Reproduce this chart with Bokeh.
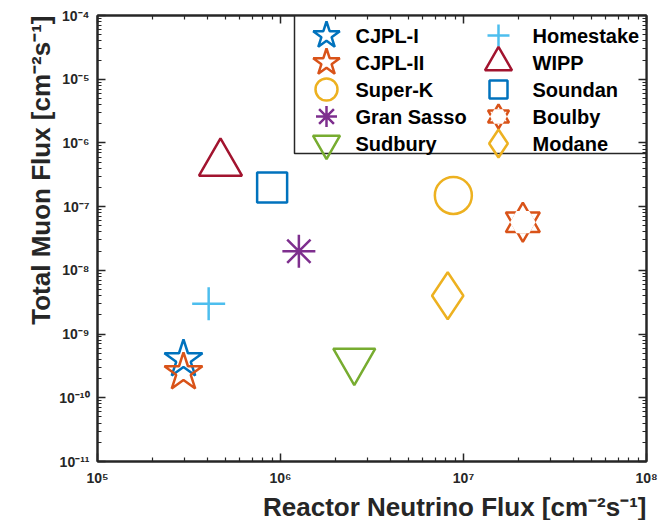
from bokeh.plotting import figure
from bokeh.models import FixedTicker, CustomJSTickFormatter, LogAxis, Range1d, LinearScale, Title
from bokeh.embed import file_html
from bokeh.resources import INLINE
from bokeh.core.properties import value

# ---------------- data ----------------
sites = ["CJPL-I", "CJPL-II", "Super-K", "Gran Sasso", "Sudbury",
         "Homestake", "WIPP", "Soundan", "Boulby", "Modane"]
reactor_flux = [2.95e5, 2.95e5, 8.8e6, 1.26e6, 2.53e6,
                4.05e5, 4.7e5, 9.0e5, 2.11e7, 8.2e6]
muon_flux = [4.0e-10, 2.5e-10, 1.5e-7, 2.0e-8, 3.8e-10,
             3.0e-9, 4.8e-7, 2.0e-7, 5.7e-8, 4.0e-9]

x_ticks = [1e5, 1e6, 1e7, 1e8]
x_tick_labels = ["10⁵", "10⁶", "10⁷", "10⁸"]
y_ticks = [1e-11, 1e-10, 1e-9, 1e-8, 1e-7, 1e-6, 1e-5, 1e-4]
y_tick_labels = ["10⁻¹¹", "10⁻¹⁰", "10⁻⁹", "10⁻⁸", "10⁻⁷", "10⁻⁶", "10⁻⁵", "10⁻⁴"]

x_label = "Reactor Neutrino Flux [cm⁻²s⁻¹]"
y_label = "Total Muon Flux [cm⁻²s⁻¹]"

# ---------------- style ----------------
BLUE, ORANGE, YELLOW = "#0072BD", "#D95319", "#EDB120"
PURPLE, GREEN, LBLUE, DRED = "#7E2F8E", "#77AC30", "#4DBEEE", "#A2142F"
site_colors = [BLUE, ORANGE, YELLOW, PURPLE, GREEN, LBLUE, DRED, BLUE, ORANGE, YELLOW]
site_markers = ["star", "star", "circle", "asterisk", "inverted_triangle",
                "cross", "triangle", "square", "hexagram", "diamond"]
plot_sizes = [40, 40, 37, 33, 42, 33, 43, 30, 34, 47]
legend_sizes = [28, 28, 22, 21, 27, 22, 27, 18, 21, 28]

FONT = "Liberation Sans"
AX = "#262626"
LW = 2.5
FW, FH = 549, 446

p = figure(x_axis_type="log", y_axis_type="log",
           x_range=Range1d(x_ticks[0], x_ticks[-1]), y_range=Range1d(y_ticks[0], y_ticks[-1]),
           frame_width=FW, frame_height=FH,
           min_border_left=97, min_border_right=23, min_border_top=15, min_border_bottom=59,
           output_backend="svg", toolbar_location=None)
p.grid.visible = False
p.outline_line_color = AX
p.outline_line_width = 2
p.background_fill_color = "white"
p.border_fill_color = "white"

# pixel coordinate system inside the frame (for the legend layout)
p.extra_x_ranges = {"px": Range1d(0, FW)}
p.extra_y_ranges = {"px": Range1d(0, FH)}
p.extra_x_scales = {"px": LinearScale()}
p.extra_y_scales = {"px": LinearScale()}


def minor(ticks):
    out = []
    for t in ticks[:-1]:
        out += [t * m for m in range(2, 10)]
    return out


def fmt(tvals, tlabels):
    return CustomJSTickFormatter(args=dict(tvals=tvals, tlabels=tlabels), code="""
        for (let k = 0; k < tvals.length; k++) {
            if (Math.abs(Math.log10(tvals[k]) - Math.log10(tick)) < 1e-6) return tlabels[k];
        }
        return "";
    """)


def style_axis(ax, show_labels):
    ax.axis_line_color = AX
    ax.axis_line_width = 2
    ax.major_tick_line_color = AX
    ax.minor_tick_line_color = AX
    ax.major_tick_line_width = 1.5
    ax.minor_tick_line_width = 1.2
    ax.major_tick_in = 8
    ax.major_tick_out = 0
    ax.minor_tick_in = 4
    ax.minor_tick_out = 0
    if show_labels:
        ax.major_label_text_font = FONT
        ax.major_label_text_font_style = "bold"
        ax.major_label_text_font_size = "14px"
        ax.major_label_text_color = AX
    else:
        ax.major_label_text_font_size = "0px"
        ax.major_label_standoff = 0


xa = p.xaxis[0]
ya = p.yaxis[0]
xa.ticker = FixedTicker(ticks=x_ticks, minor_ticks=minor(x_ticks))
ya.ticker = FixedTicker(ticks=y_ticks, minor_ticks=minor(y_ticks))
xa.formatter = fmt(x_ticks, x_tick_labels)
ya.formatter = fmt(y_ticks, y_tick_labels)
style_axis(xa, True)
style_axis(ya, True)
xa.major_label_standoff = 8
ya.major_label_standoff = 8

top = LogAxis(ticker=FixedTicker(ticks=x_ticks, minor_ticks=minor(x_ticks)),
              formatter=fmt([], []))
right = LogAxis(ticker=FixedTicker(ticks=y_ticks, minor_ticks=minor(y_ticks)),
                formatter=fmt([], []))
style_axis(top, False)
style_axis(right, False)
p.add_layout(top, "above")
p.add_layout(right, "right")

# axis titles, aligned to the far end of each axis
for txt, side in ((x_label, "below"), (y_label, "left")):
    p.add_layout(Title(text=txt, align="right", text_font=FONT, text_font_style="bold",
                       text_font_size="26px", text_color=AX, standoff=2), side)


def draw(x, y, marker, size, color, **kw):
    if marker == "hexagram":
        for m in ("triangle", "inverted_triangle"):
            p.scatter(x, y, marker=m, size=size, fill_color=None,
                      line_color=color, line_width=LW, **kw)
        p.scatter(x, y, marker="hex", size=2 * size / 3 + 3.0,
                  fill_color="white", line_color=None, **kw)
    else:
        p.scatter(x, y, marker=marker, size=size, fill_color=None,
                  line_color=color, line_width=LW, **kw)


# data points
for i in range(len(sites)):
    draw([reactor_flux[i]], [muon_flux[i]], site_markers[i], plot_sizes[i], site_colors[i])

# legend (two columns, drawn in frame pixel units)
PX = dict(x_range_name="px", y_range_name="px")
LEG_L, LEG_R, LEG_T, LEG_B = 197, FW, FH, 308
p.quad(left=[LEG_L], right=[LEG_R], top=[LEG_T], bottom=[LEG_B],
       fill_color="white", line_color=AX, line_width=1.5, **PX)
ROW0, PITCH = 426, 27
COL_GLYPH = [229, 401]
COL_TEXT = [258, 435]
for i in range(len(sites)):
    col, row = divmod(i, 5)
    yy = ROW0 - row * PITCH
    draw([COL_GLYPH[col]], [yy], site_markers[i], legend_sizes[i], site_colors[i], **PX)
    p.text(x=[COL_TEXT[col]], y=[yy], text=[sites[i]], text_font=value(FONT),
           text_font_style="bold", text_font_size="20px", text_color="black",
           text_baseline="middle", text_align="left", **PX)

open("out.html", "w").write(file_html(p, INLINE))
